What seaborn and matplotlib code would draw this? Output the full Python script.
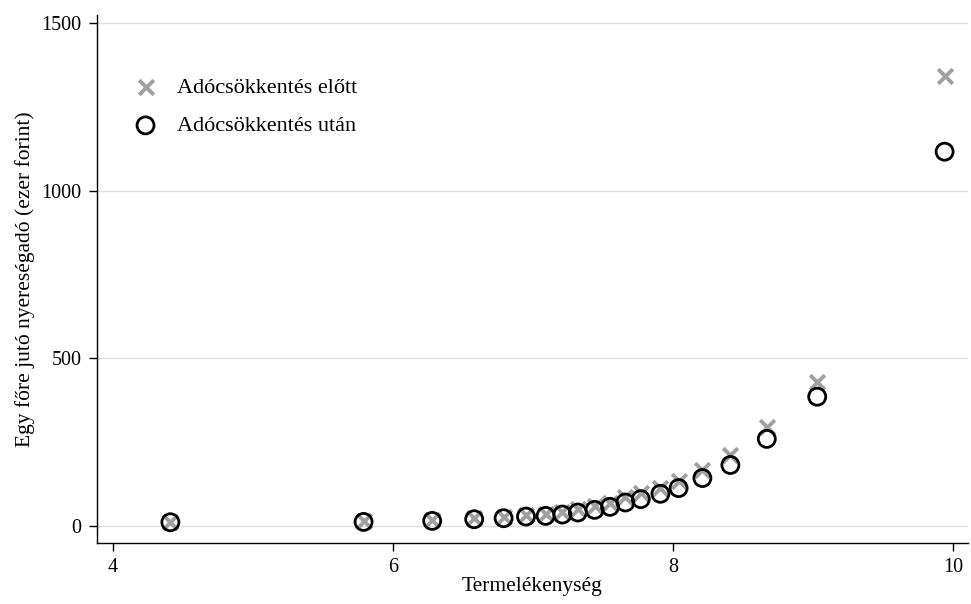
import matplotlib
matplotlib.use("Agg")
import matplotlib.pyplot as plt
import seaborn as sns
import pandas as pd

# productivity (x) and per-capita profit tax (thousand HUF)
termelekenyseg = [4.41, 5.79, 6.28, 6.58, 6.79, 6.95, 7.09, 7.21, 7.32, 7.44,
                  7.55, 7.66, 7.77, 7.91, 8.04, 8.21, 8.41, 8.67, 9.03, 9.94]
ado_elott = [11, 13, 16, 22, 26, 32, 35, 40, 50, 60,
             68, 85, 98, 112, 132, 166, 210, 294, 430, 1342]
ado_utan = [10, 11, 14, 19, 22, 27, 29, 33, 39, 47,
            56, 69, 79, 95, 112, 142, 181, 259, 385, 1117]

x_ticks = [4, 6, 8, 10]
y_ticks = [0, 500, 1000, 1500]

df = pd.DataFrame({"x": termelekenyseg, "elott": ado_elott, "utan": ado_utan})

sns.set_theme(style="white")
plt.rcParams["font.family"] = ["Liberation Serif", "DejaVu Serif"]
plt.rcParams["text.color"] = "black"
plt.rcParams["axes.labelcolor"] = "black"

fig = plt.figure(figsize=(9.71, 6.04), dpi=100)
ax = fig.add_axes([0.0999, 0.101, 0.897, 0.874])

for y in y_ticks:
    ax.axhline(y, color="#dddddd", linewidth=1, zorder=0)

sns.scatterplot(data=df, x="x", y="elott", marker="x", color="#a0a0a0",
                s=110, linewidth=2.8, ax=ax, label="Adócsökkentés előtt", zorder=2)
sns.scatterplot(data=df, x="x", y="utan", marker="o", facecolor="none",
                edgecolor="black", s=150, linewidth=2.0, ax=ax,
                label="Adócsökkentés után", zorder=3)

ax.set_xlim(3.886, 10.107)
ax.set_ylim(-52, 1525)
ax.set_xticks(x_ticks)
ax.set_yticks(y_ticks)
ax.set_xticklabels([str(t) for t in x_ticks])
ax.set_yticklabels([str(t) for t in y_ticks])
ax.tick_params(axis="both", direction="out", length=6, width=1, color="black",
               labelcolor="black", labelsize=14.5, pad=5, bottom=True, left=True)
ax.set_xlabel("Termelékenység", fontsize=15.5, labelpad=0)
ax.set_ylabel("Egy főre jutó nyereségadó (ezer forint)", fontsize=15.5, labelpad=5)

for side in ["top", "right"]:
    ax.spines[side].set_visible(False)
for side in ["left", "bottom"]:
    ax.spines[side].set_color("black")
    ax.spines[side].set_linewidth(1)

ax.legend(loc="upper left", bbox_to_anchor=(0.02, 0.899), frameon=False,
          fontsize=16, handletextpad=0.4, labelspacing=0.8, borderaxespad=0)

fig.savefig("out.png", dpi=100)
